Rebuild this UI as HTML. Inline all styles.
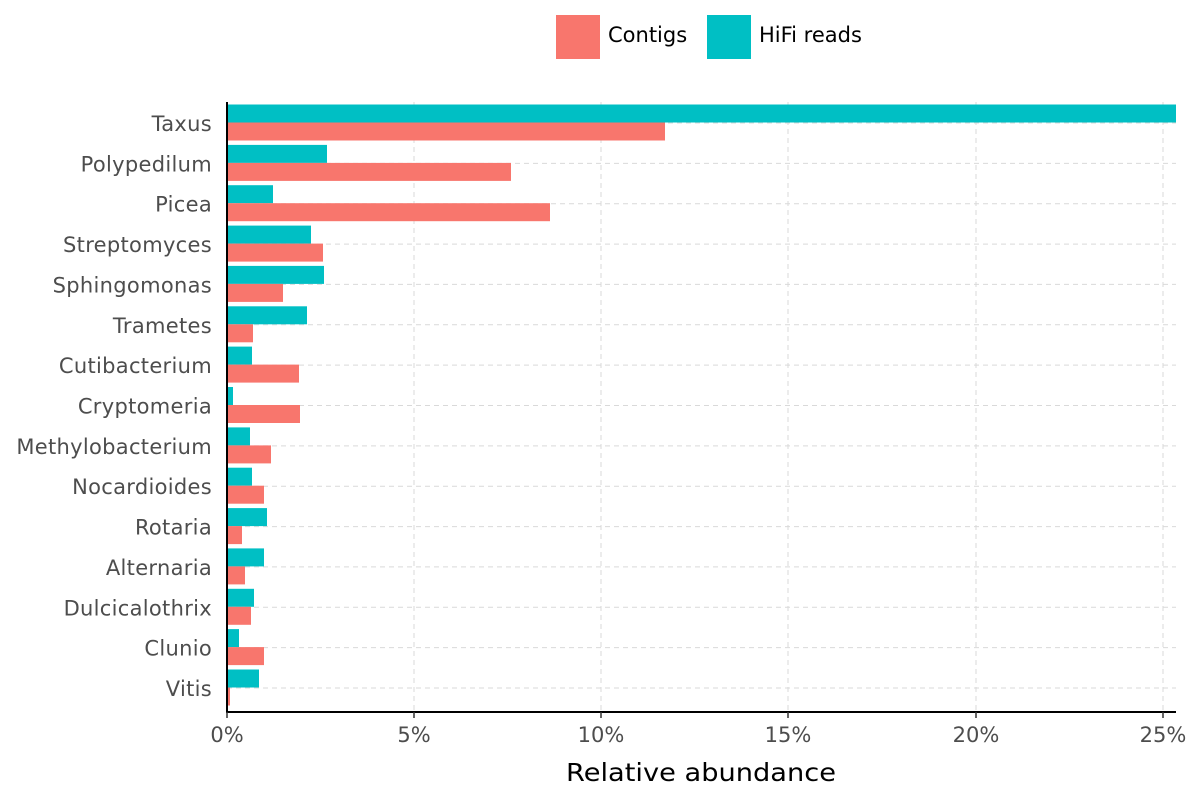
<!DOCTYPE html>
<html><head><meta charset="utf-8"><style>
html,body{margin:0;padding:0;background:#fff;}
svg{display:block;font-family:"DejaVu Sans","Liberation Sans",sans-serif;}
</style></head><body>
<svg width="1200" height="800" xmlns="http://www.w3.org/2000/svg">
<rect width="1200" height="800" fill="#fff"/>
<rect x="556" y="15" width="44" height="44" fill="#F8766D"/>
<text x="608" y="42" font-size="21" fill="#000">Contigs</text>
<rect x="707" y="15" width="44" height="44" fill="#00BFC4"/>
<text x="759" y="42" font-size="21" fill="#000">HiFi reads</text>
<g stroke="#d9d9d9" stroke-width="1" stroke-dasharray="5,4">
<line x1="414" y1="102" x2="414" y2="712"/><line x1="601" y1="102" x2="601" y2="712"/>
<line x1="788" y1="102" x2="788" y2="712"/><line x1="976" y1="102" x2="976" y2="712"/>
<line x1="1163" y1="102" x2="1163" y2="712"/>
<line x1="227" y1="123" x2="1176" y2="123"/><line x1="227" y1="163.4" x2="1176" y2="163.4"/>
<line x1="227" y1="203.7" x2="1176" y2="203.7"/><line x1="227" y1="244.1" x2="1176" y2="244.1"/>
<line x1="227" y1="284.4" x2="1176" y2="284.4"/><line x1="227" y1="324.8" x2="1176" y2="324.8"/>
<line x1="227" y1="365.1" x2="1176" y2="365.1"/><line x1="227" y1="405.5" x2="1176" y2="405.5"/>
<line x1="227" y1="445.9" x2="1176" y2="445.9"/><line x1="227" y1="486.2" x2="1176" y2="486.2"/>
<line x1="227" y1="526.6" x2="1176" y2="526.6"/><line x1="227" y1="566.9" x2="1176" y2="566.9"/>
<line x1="227" y1="607.3" x2="1176" y2="607.3"/><line x1="227" y1="647.6" x2="1176" y2="647.6"/>
<line x1="227" y1="688" x2="1176" y2="688"/>
</g>
<g>
<rect x="227" y="104.5" width="949" height="18" fill="#00BFC4"/><rect x="227" y="122.5" width="438" height="18" fill="#F8766D"/>
<rect x="227" y="144.9" width="100" height="18" fill="#00BFC4"/><rect x="227" y="162.9" width="284" height="18" fill="#F8766D"/>
<rect x="227" y="185.2" width="46" height="18" fill="#00BFC4"/><rect x="227" y="203.2" width="323" height="18" fill="#F8766D"/>
<rect x="227" y="225.6" width="84" height="18" fill="#00BFC4"/><rect x="227" y="243.6" width="96" height="18" fill="#F8766D"/>
<rect x="227" y="265.9" width="97" height="18" fill="#00BFC4"/><rect x="227" y="283.9" width="56" height="18" fill="#F8766D"/>
<rect x="227" y="306.3" width="80" height="18" fill="#00BFC4"/><rect x="227" y="324.3" width="26" height="18" fill="#F8766D"/>
<rect x="227" y="346.6" width="25" height="18" fill="#00BFC4"/><rect x="227" y="364.6" width="72" height="18" fill="#F8766D"/>
<rect x="227" y="387" width="6" height="18" fill="#00BFC4"/><rect x="227" y="405" width="73" height="18" fill="#F8766D"/>
<rect x="227" y="427.4" width="23" height="18" fill="#00BFC4"/><rect x="227" y="445.4" width="44" height="18" fill="#F8766D"/>
<rect x="227" y="467.7" width="25" height="18" fill="#00BFC4"/><rect x="227" y="485.7" width="37" height="18" fill="#F8766D"/>
<rect x="227" y="508.1" width="40" height="18" fill="#00BFC4"/><rect x="227" y="526.1" width="15" height="18" fill="#F8766D"/>
<rect x="227" y="548.4" width="37" height="18" fill="#00BFC4"/><rect x="227" y="566.4" width="18" height="18" fill="#F8766D"/>
<rect x="227" y="588.8" width="27" height="18" fill="#00BFC4"/><rect x="227" y="606.8" width="24" height="18" fill="#F8766D"/>
<rect x="227" y="629.1" width="12" height="18" fill="#00BFC4"/><rect x="227" y="647.1" width="37" height="18" fill="#F8766D"/>
<rect x="227" y="669.5" width="32" height="18" fill="#00BFC4"/><rect x="227" y="687.5" width="3" height="18" fill="#F8766D"/>
</g>
<line x1="227" y1="102" x2="227" y2="713" stroke="#000" stroke-width="2"/>
<line x1="226" y1="712" x2="1176" y2="712" stroke="#000" stroke-width="2"/>
<g stroke="#333" stroke-width="1.5">
<line x1="227" y1="712" x2="227" y2="718"/><line x1="414" y1="712" x2="414" y2="718"/>
<line x1="601" y1="712" x2="601" y2="718"/><line x1="788" y1="712" x2="788" y2="718"/>
<line x1="976" y1="712" x2="976" y2="718"/><line x1="1163" y1="712" x2="1163" y2="718"/>
</g>
<g font-size="21" fill="#4d4d4d" text-anchor="middle">
<text x="227" y="742">0%</text><text x="414" y="742">5%</text><text x="601" y="742">10%</text>
<text x="788" y="742">15%</text><text x="976" y="742">20%</text><text x="1163" y="742">25%</text>
</g>
<g font-size="21" fill="#4d4d4d" text-anchor="end" letter-spacing="0.3">
<text x="212" y="131">Taxus</text><text x="212" y="171.4">Polypedilum</text><text x="212" y="211.7">Picea</text>
<text x="212" y="252.1">Streptomyces</text><text x="212" y="292.4">Sphingomonas</text><text x="212" y="332.8">Trametes</text>
<text x="212" y="373.1">Cutibacterium</text><text x="212" y="413.5">Cryptomeria</text><text x="212" y="453.9">Methylobacterium</text>
<text x="212" y="494.2">Nocardioides</text><text x="212" y="534.6">Rotaria</text><text x="212" y="574.9">Alternaria</text>
<text x="212" y="615.3">Dulcicalothrix</text><text x="212" y="655.6">Clunio</text><text x="212" y="696">Vitis</text>
</g>
<text x="701" y="781" font-size="25" fill="#000" text-anchor="middle" textLength="270" lengthAdjust="spacingAndGlyphs">Relative abundance</text>
</svg>
</body></html>
